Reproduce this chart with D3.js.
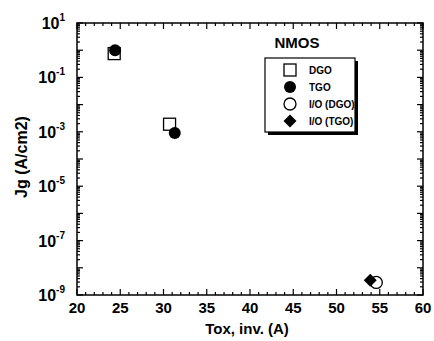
<!DOCTYPE html>
<html>
<head>
<meta charset="utf-8">
<script src="https://cdn.jsdelivr.net/npm/d3@7"></script>
<style>
  html, body { margin: 0; padding: 0; background: #fff; }
  svg text { font-family: "Liberation Sans", Arial, sans-serif; font-weight: bold; fill: #000; }
</style>
</head>
<body>
<svg id="chart" width="434" height="341"></svg>
<script>
// data
const seriesNames = ["DGO", "TGO", "I/O (DGO)", "I/O (TGO)"];
const dgo = [[24.3, 0.75], [30.7, 1.9e-3]];
const tgo = [[24.4, 1.0], [31.3, 9e-4]];
const ioDgo = [[54.6, 2.9e-9]];
const ioTgo = [[53.9, 3.5e-9]];
const xTicks = [20, 25, 30, 35, 40, 45, 50, 55, 60];
const yTickExps = [1, -1, -3, -5, -7, -9];

const svg = d3.select("#chart");
const margin = {top: 23, right: 11, bottom: 46, left: 77};
const W = 434, H = 341;

const x = d3.scaleLinear().domain([20, 60]).range([margin.left, W - margin.right]);
const y = d3.scaleLog().domain([1e-9, 10]).range([H - margin.bottom, margin.top]);

// diamond = square turned 45 degrees
const diamond = s => `M0,${-s}L${s},0L0,${s}L${-s},0Z`;

// frame
svg.append("rect")
  .attr("x", x(20)).attr("y", y(10))
  .attr("width", x(60) - x(20)).attr("height", y(1e-9) - y(10))
  .attr("fill", "none").attr("stroke", "#000").attr("stroke-width", 1.5);

// x ticks (inward, on bottom and top)
const xMinor = d3.range(20, 61, 1);
const tickG = svg.append("g").attr("stroke", "#000").attr("stroke-width", 1.2);
xMinor.forEach(v => {
  const len = v % 5 === 0 ? 6 : 3;
  tickG.append("line").attr("x1", x(v)).attr("x2", x(v))
    .attr("y1", y(1e-9)).attr("y2", y(1e-9) - len);
  tickG.append("line").attr("x1", x(v)).attr("x2", x(v))
    .attr("y1", y(10)).attr("y2", y(10) + len);
});

// y ticks (log, inward, both sides)
for (let e = -9; e <= 1; e++) {
  for (let m = 1; m <= 9; m++) {
    const v = m * Math.pow(10, e);
    if (e === 1 && m > 1) continue;
    const len = m === 1 ? 6 : 3;
    tickG.append("line").attr("x1", x(20)).attr("x2", x(20) + len)
      .attr("y1", y(v)).attr("y2", y(v));
    tickG.append("line").attr("x1", x(60)).attr("x2", x(60) - len)
      .attr("y1", y(v)).attr("y2", y(v));
  }
}

// x tick labels
svg.append("g").selectAll("text").data(xTicks).enter().append("text")
  .attr("x", d => x(d)).attr("y", y(1e-9) + 18)
  .attr("text-anchor", "middle").attr("font-size", 15)
  .text(d => d);

// y tick labels
const yl = svg.append("g").selectAll("text").data(yTickExps).enter().append("text")
  .attr("x", x(20) - 12).attr("y", d => y(Math.pow(10, d)) + 6)
  .attr("text-anchor", "end").attr("font-size", 16);
yl.append("tspan").text("10");
yl.append("tspan").attr("font-size", 10).attr("dy", -8).text(d => d);

// axis titles
svg.append("text")
  .attr("x", 247).attr("y", H - 7)
  .attr("text-anchor", "middle").attr("font-size", 15)
  .text("Tox, inv. (A)");
svg.append("text")
  .attr("transform", `translate(27,157) rotate(-90)`)
  .attr("text-anchor", "middle").attr("font-size", 16)
  .text("Jg (A/cm2)");

// markers
const plot = svg.append("g");
plot.selectAll(".dgo").data(dgo).enter().append("rect")
  .attr("x", d => x(d[0]) - 6).attr("y", d => y(d[1]) - 6)
  .attr("width", 12).attr("height", 12)
  .attr("fill", "#fff").attr("stroke", "#000").attr("stroke-width", 1.3);
plot.selectAll(".tgo").data(tgo).enter().append("circle")
  .attr("cx", d => x(d[0])).attr("cy", d => y(d[1])).attr("r", 6)
  .attr("fill", "#000");
plot.selectAll(".iod").data(ioDgo).enter().append("circle")
  .attr("cx", d => x(d[0])).attr("cy", d => y(d[1])).attr("r", 6)
  .attr("fill", "#fff").attr("stroke", "#000").attr("stroke-width", 1.3);
plot.selectAll(".iot").data(ioTgo).enter().append("path")
  .attr("d", diamond(6.5))
  .attr("transform", d => `translate(${x(d[0])},${y(d[1])})`)
  .attr("fill", "#000");

// legend
svg.append("text").attr("x", 297).attr("y", 48)
  .attr("text-anchor", "middle").attr("font-size", 15).text("NMOS");
const lg = svg.append("g");
lg.append("rect").attr("x", 268).attr("y", 61).attr("width", 90).attr("height", 74)
  .attr("fill", "#000");
lg.append("rect").attr("x", 265).attr("y", 58).attr("width", 90).attr("height", 74)
  .attr("fill", "#fff").attr("stroke", "#000").attr("stroke-width", 1.2);
const ly = [70, 87, 104, 121];
seriesNames.forEach((name, i) => {
  const cx = 290, cy = ly[i];
  if (i === 0) lg.append("rect").attr("x", cx - 6).attr("y", cy - 6).attr("width", 12).attr("height", 12)
    .attr("fill", "#fff").attr("stroke", "#000").attr("stroke-width", 1.3);
  if (i === 1) lg.append("circle").attr("cx", cx).attr("cy", cy).attr("r", 6).attr("fill", "#000");
  if (i === 2) lg.append("circle").attr("cx", cx).attr("cy", cy).attr("r", 6)
    .attr("fill", "#fff").attr("stroke", "#000").attr("stroke-width", 1.3);
  if (i === 3) lg.append("path").attr("d", diamond(6.5))
    .attr("transform", `translate(${cx},${cy})`).attr("fill", "#000");
  lg.append("text").attr("x", 309).attr("y", cy + 4).attr("font-size", 10).text(name);
});
</script>
</body>
</html>
